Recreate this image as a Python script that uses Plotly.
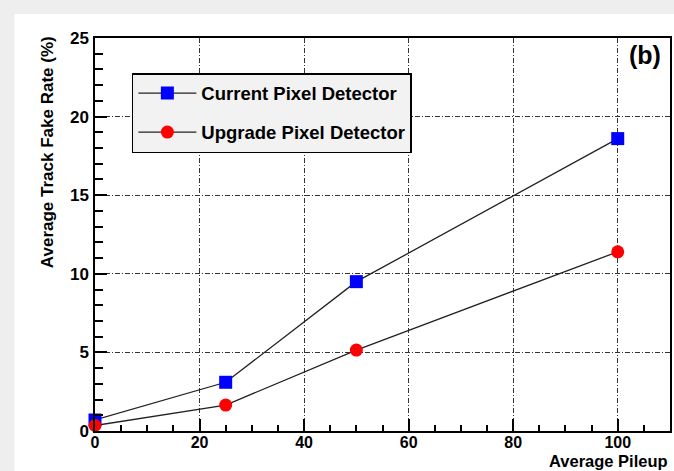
import plotly.graph_objects as go

pileup = [0, 25, 50, 100]
current_rate = [0.7, 3.1, 9.5, 18.6]
upgrade_rate = [0.35, 1.65, 5.15, 11.4]
series_names = ["Current Pixel Detector", "Upgrade Pixel Detector"]
x_ticks = [0, 20, 40, 60, 80, 100]
y_ticks = [0, 5, 10, 15, 20, 25]

W, H = 674, 471
L, R, T, B = 95, 2, 38, 40
pw, ph = W - L - R, H - T - B

def px(x):
    return (x - L) / pw

def py(y):
    return (H - B - y) / ph

FONT = "Liberation Sans, Arial, sans-serif"

fig = go.Figure()
fig.add_trace(go.Scatter(
    x=pileup, y=current_rate, name=series_names[0], mode="lines+markers",
    line=dict(color="#222222", width=1.3),
    marker=dict(symbol="square", color="#0000ff", size=13),
    legendgroup="a", cliponaxis=False))
fig.add_trace(go.Scatter(
    x=pileup, y=upgrade_rate, name=series_names[1], mode="lines+markers",
    line=dict(color="#222222", width=1.3),
    marker=dict(symbol="circle", color="#ff0000", size=13),
    legendgroup="b", cliponaxis=False))

axis_common = dict(
    showline=True, linecolor="black", linewidth=1.5, mirror=True,
    ticks="inside", tickcolor="black", ticklen=12, tickwidth=1.5,
    showgrid=True, gridcolor="#333333", gridwidth=1, griddash="5px,2px,1px,2px",
    zeroline=False,
)

fig.update_xaxes(range=[0, 110], tickvals=x_ticks, ticklabelstandoff=-4,
                 tickfont=dict(family=FONT, size=16, color="black", weight="bold"),
                 minor=dict(dtick=5, ticks="inside", ticklen=6, tickcolor="black", showgrid=False),
                 **axis_common)
fig.update_yaxes(range=[0, 25], tickvals=y_ticks, ticklabelstandoff=1,
                 tickfont=dict(family=FONT, size=17, color="black", weight="bold"),
                 minor=dict(dtick=1, ticks="inside", ticklen=8, tickcolor="black", showgrid=False),
                 **axis_common)

fig.add_shape(type="rect", xref="paper", yref="paper",
              x0=px(14), x1=px(W + 2), y0=py(14), y1=py(H + 2),
              fillcolor="white", line=dict(width=0), layer="below")

fig.add_annotation(text="Average Track Fake Rate (%)", textangle=-90,
                   xref="paper", yref="paper", x=px(48), y=py(34),
                   xanchor="center", yanchor="top", showarrow=False,
                   font=dict(family=FONT, size=17, color="black", weight="bold"))
fig.add_annotation(text="Average Pileup",
                   xref="paper", yref="paper", x=px(671), y=py(470.5),
                   xanchor="right", yanchor="bottom", showarrow=False, borderpad=0,
                   font=dict(family=FONT, size=16.5, color="black", weight="bold"))
fig.add_annotation(text="(b)",
                   xref="paper", yref="paper", x=px(665), y=py(55),
                   xanchor="right", yanchor="middle", showarrow=False,
                   font=dict(family=FONT, size=25, color="black", weight="bold"))

fig.update_layout(
    width=W, height=H,
    margin=dict(l=L, r=R, t=T, b=B),
    paper_bgcolor="#eeeeee", plot_bgcolor="white",
    showlegend=True,
    legend=dict(x=px(132), y=py(73), xanchor="left", yanchor="top",
                bgcolor="#f2f2f2", bordercolor="black", borderwidth=1.5,
                font=dict(family=FONT, size=18.5, color="black", weight="bold"),
                itemwidth=58, traceorder="grouped", tracegroupgap=12),
)

fig.write_html("out.html")
